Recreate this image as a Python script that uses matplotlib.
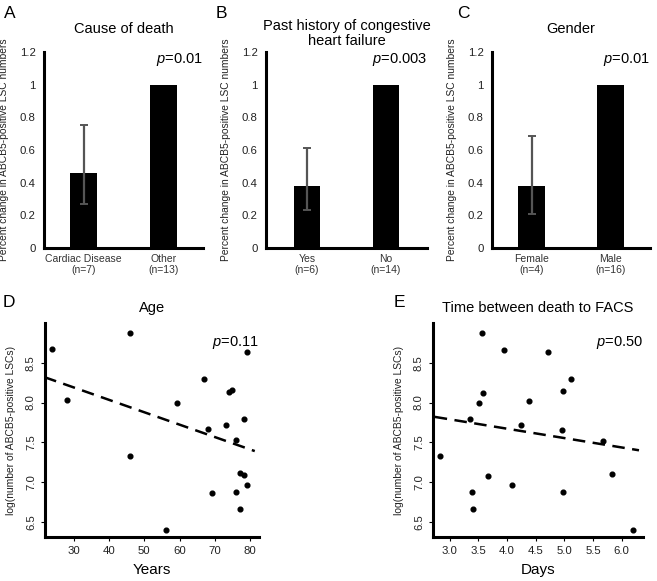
import matplotlib
matplotlib.use('Agg')
import matplotlib.pyplot as plt

plt.rcParams['font.family'] = ['Liberation Sans', 'DejaVu Sans']
plt.rcParams['mathtext.fontset'] = 'custom'
plt.rcParams['mathtext.it'] = 'Liberation Sans:italic'
plt.rcParams['mathtext.rm'] = 'Liberation Sans'

# ---- bar panels (A, B, C) ----
cause_labels = ['Cardiac Disease\n(n=7)', 'Other\n(n=13)']
cause_vals = [0.457, 1.0]
cause_ci = (0.269, 0.755)

chf_labels = ['Yes\n(n=6)', 'No\n(n=14)']
chf_vals = [0.38, 1.0]
chf_ci = (0.23, 0.61)

gender_labels = ['Female\n(n=4)', 'Male\n(n=16)']
gender_vals = [0.38, 1.0]
gender_ci = (0.208, 0.688)

# ---- scatter panels (D, E) ----
age = [23.9, 28.1, 45.9, 45.9, 56.1, 59.1, 67.0, 68.1, 69.1, 73.1,
       74.0, 74.9, 76.0, 76.0, 77.0, 77.0, 78.2, 78.2, 79.0, 79.0]
age_lsc = [8.67, 8.03, 8.88, 7.33, 6.40, 8.00, 8.29, 7.67, 6.86, 7.72,
           8.13, 8.16, 7.53, 6.87, 7.11, 6.66, 7.09, 7.79, 8.64, 6.96]
age_fit_x = [21.6, 81.3]
age_fit_y = [8.32, 7.39]

days = [2.84, 3.56, 3.36, 3.51, 3.59, 3.39, 3.41, 3.67, 4.09, 3.94,
        4.25, 4.38, 4.72, 4.97, 4.96, 4.97, 5.12, 5.68, 5.83, 6.20]
days_lsc = [7.33, 8.87, 7.79, 7.99, 8.12, 6.87, 6.66, 7.08, 6.96, 8.66,
            7.72, 8.02, 8.63, 8.15, 7.66, 6.87, 8.29, 7.52, 7.10, 6.40]
days_fit_x = [2.74, 6.30]
days_fit_y = [7.82, 7.40]

W, H = 657, 581
fig = plt.figure(figsize=(W / 100, H / 100), dpi=100)


def box(l, t, r, b):
    return [l / W, 1 - b / H, (r - l) / W, (b - t) / H]


ylab_bar = 'Percent change in ABCB5-positive LSC numbers'


def bar_panel(rect, labels, vals, ci, title, ptxt, letter, lx, xlim):
    ax = fig.add_axes(rect)
    ax.bar([0, 1], vals, width=0.34, color='black')
    ax.errorbar([0], [vals[0]], yerr=[[vals[0] - ci[0]], [ci[1] - vals[0]]],
                fmt='none', ecolor='#555555', elinewidth=1.6, capsize=3, capthick=1.4)
    ax.set_xlim(*xlim)
    ax.set_ylim(0, 1.2)
    ax.set_yticks([0, 0.2, 0.4, 0.6, 0.8, 1, 1.2])
    ax.set_yticklabels(['0', '0.2', '0.4', '0.6', '0.8', '1', '1.2'])
    ax.set_xticks([0, 1])
    ax.set_xticklabels(labels, fontsize=7.5, color='#333333', linespacing=1.2)
    ax.tick_params(axis='y', length=0, pad=6, labelsize=8.2, labelcolor='#222222')
    ax.tick_params(axis='x', length=0, pad=4)
    for s in ['top', 'right']:
        ax.spines[s].set_visible(False)
    for s in ['left', 'bottom']:
        ax.spines[s].set_linewidth(2.2)
    ax.set_ylabel(ylab_bar, fontsize=7.4, color='#222222', labelpad=8)
    ax.set_title(title, fontsize=10.5, pad=14 if '\n' not in title else 5, linespacing=1.1)
    ax.text(1.0, 0.96, ptxt, transform=ax.transAxes, ha='right', va='center', fontsize=10.5)
    fig.text(lx / W, 1 - 14 / H, letter, fontsize=12.5, ha='left', va='center')
    return ax


bar_panel(box(44, 52, 203, 248), cause_labels, cause_vals, cause_ci,
          'Cause of death', r'$p$=0.01', 'A', 4, (-0.5, 1.5))
bar_panel(box(266, 52, 427, 248), chf_labels, chf_vals, chf_ci,
          'Past history of congestive\nheart failure', r'$p$=0.003', 'B', 216, (-0.52, 1.52))
bar_panel(box(492, 52, 650, 248), gender_labels, gender_vals, gender_ci,
          'Gender', r'$p$=0.01', 'C', 457, (-0.5, 1.5))


def scatter_panel(rect, x, y, fx, fy, xlim, xticks, xticklabels, xlabel, title, ptxt, letter, lx):
    ax = fig.add_axes(rect)
    ax.plot(x, y, 'o', color='black', markersize=3.4)
    ax.plot(fx, fy, '--', color='black', linewidth=1.8, dashes=(5, 3))
    ax.set_xlim(*xlim)
    ax.set_ylim(6.31, 9.0)
    ax.set_xticks(xticks)
    ax.set_xticklabels(xticklabels)
    ax.set_yticks([6.5, 7.0, 7.5, 8.0, 8.5])
    ax.set_yticklabels(['6.5', '7.0', '7.5', '8.0', '8.5'], rotation=90, va='center')
    ax.tick_params(length=3, width=0.8, labelsize=8.2, labelcolor='#222222')
    for s in ['top', 'right']:
        ax.spines[s].set_visible(False)
    for s in ['left', 'bottom']:
        ax.spines[s].set_linewidth(2.2)
    ax.set_xlabel(xlabel, fontsize=11, labelpad=5)
    ax.set_ylabel('log(number of ABCB5-positive LSCs)', fontsize=7.4, color='#222222', labelpad=7)
    ax.set_title(title, fontsize=10.5, pad=8)
    ax.text(1.0, 0.91, ptxt, transform=ax.transAxes, ha='right', va='center', fontsize=10.5)
    fig.text(lx / W, 1 - 303 / H, letter, fontsize=12.5, ha='left', va='center')
    return ax


scatter_panel(box(45, 323, 259, 537), age, age_lsc, age_fit_x, age_fit_y,
              (21.8, 82.5), [30, 40, 50, 60, 70, 80], ['30', '40', '50', '60', '70', '80'],
              'Years', 'Age', r'$p$=0.11', 'D', 3)
scatter_panel(box(433, 323, 643, 537), days, days_lsc, days_fit_x, days_fit_y,
              (2.71, 6.37), [3.0, 3.5, 4.0, 4.5, 5.0, 5.5, 6.0],
              ['3.0', '3.5', '4.0', '4.5', '5.0', '5.5', '6.0'],
              'Days', 'Time between death to FACS', r'$p$=0.50', 'E', 394)

fig.savefig('out.png', dpi=100)
